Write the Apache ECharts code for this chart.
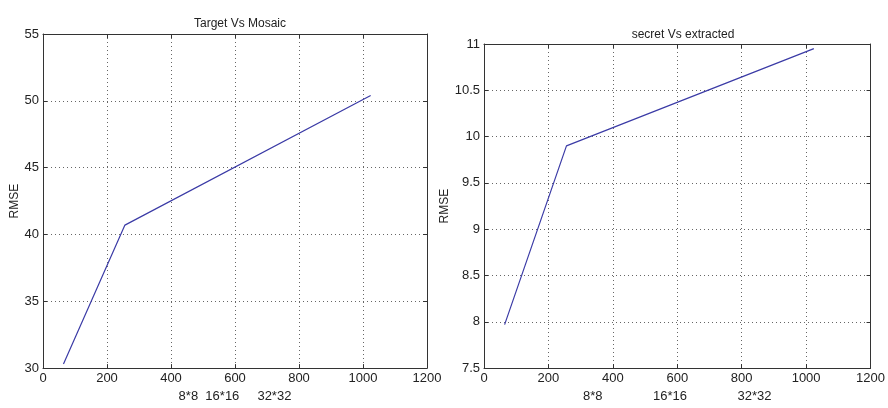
<!DOCTYPE html>
<html><head><meta charset="utf-8">
<script src="https://cdn.jsdelivr.net/npm/echarts@6/dist/echarts.min.js"></script>
<style>html,body{margin:0;padding:0;background:#fff}#c{width:888px;height:408px}</style>
</head><body><div id="c"></div>
<script>
const blockSizes = [64, 256, 1024];
const targetMosaicRmse = [30.3, 40.7, 50.4];
const secretExtractedRmse = [7.97, 9.9, 10.95];
const xTickMin = 0, xTickMax = 1200, xTickStep = 200;
const leftYTicks = [30, 55, 5];
const rightYTicks = [7.5, 11, 0.5];
const titles = ['Target Vs Mosaic', 'secret Vs extracted'];
const xNames = ['8*8  16*16     32*32', '8*8              16*16              32*32'];
const yName = 'RMSE';

const FONT = '"Liberation Sans Narrow","Arial Narrow","Liberation Sans",Arial,sans-serif';
const axisCol = '#333';
const lineCol = '#3b3ba6';

const grids = [
  {left: 43, top: 34, width: 384, height: 338},
  {left: 484, top: 44, width: 389, height: 329}
];

function xAx(i, main) {
  return {
    type: 'value', gridIndex: i, min: xTickMin, max: xTickMax, interval: xTickStep,
    position: main ? 'bottom' : 'top',
    name: main ? xNames[i] : '', nameLocation: 'middle', nameGap: 20,
    nameTextStyle: {fontFamily: FONT, fontSize: 13, color: '#222'},
    axisLine: {show: true, onZero: false, lineStyle: {color: axisCol, width: 1}},
    axisTick: {show: true, inside: true, length: 4, lineStyle: {color: axisCol}},
    axisLabel: {show: main, margin: 4, fontFamily: FONT, fontSize: 13, color: '#222',
                formatter: v => String(v)},
    splitLine: {show: main, lineStyle: {color: '#666', type: [1, 3], width: 1}}
  };
}
function yAx(i, t, main) {
  return {
    type: 'value', gridIndex: i, min: t[0], max: t[1], interval: t[2],
    position: main ? 'left' : 'right',
    name: main ? yName : '', nameLocation: 'middle', nameGap: i === 0 ? 22 : 28,
    nameRotate: 90,
    nameTextStyle: {fontFamily: FONT, fontSize: 12, color: '#222'},
    axisLine: {show: true, onZero: false, lineStyle: {color: axisCol, width: 1}},
    axisTick: {show: true, inside: true, length: 4, lineStyle: {color: axisCol}},
    axisLabel: {show: main, margin: 4, fontFamily: FONT, fontSize: 13, color: '#222',
                formatter: v => String(v)},
    splitLine: {show: main, lineStyle: {color: '#666', type: [1, 3], width: 1}}
  };
}

const chart = echarts.init(document.getElementById('c'), null, {renderer: 'canvas'});
chart.setOption({
  backgroundColor: '#fff',
  animation: false,
  title: [
    {text: titles[0], left: 235, top: 13, textAlign: 'center',
     textStyle: {fontFamily: FONT, fontSize: 12, fontWeight: 'normal', color: '#222'}},
    {text: titles[1], left: 678, top: 24, textAlign: 'center',
     textStyle: {fontFamily: FONT, fontSize: 12, fontWeight: 'normal', color: '#222'}}
  ],
  grid: grids,
  xAxis: [xAx(0, true), xAx(0, false), xAx(1, true), xAx(1, false)],
  yAxis: [yAx(0, leftYTicks, true), yAx(0, leftYTicks, false), yAx(1, rightYTicks, true), yAx(1, rightYTicks, false)],
  series: [
    {type: 'line', xAxisIndex: 0, yAxisIndex: 0, showSymbol: false, symbol: 'none',
     lineStyle: {color: lineCol, width: 1.2},
     data: blockSizes.map((x, k) => [x, targetMosaicRmse[k]])},
    {type: 'line', xAxisIndex: 2, yAxisIndex: 2, showSymbol: false, symbol: 'none',
     lineStyle: {color: lineCol, width: 1.2},
     data: blockSizes.map((x, k) => [x, secretExtractedRmse[k]])}
  ]
});
</script></body></html>
